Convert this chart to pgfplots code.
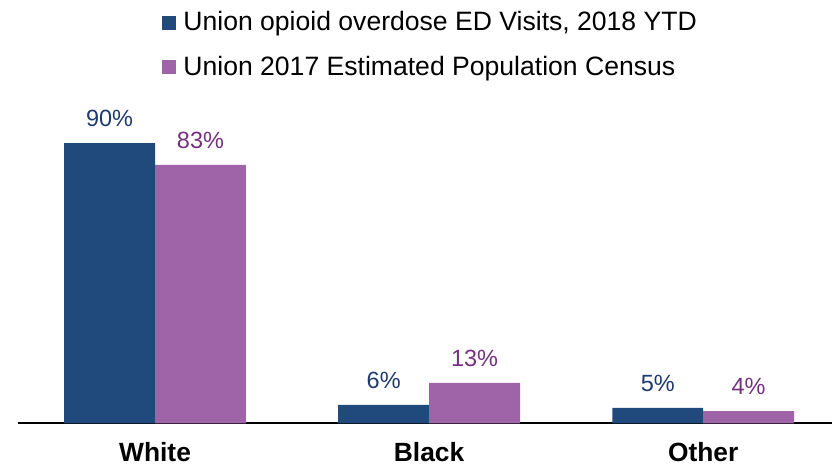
\documentclass[border=0pt]{standalone}
\usepackage{pgfplots}
\pgfplotsset{compat=1.18}
\usepackage{fontspec}
\setmainfont{Liberation Sans}

\definecolor{barblue}{HTML}{204A7C}
\definecolor{barpurple}{HTML}{9E64A7}
\definecolor{lblblue}{HTML}{1F3A6E}
\definecolor{lblpurple}{HTML}{74317F}

\begin{document}
\begin{tikzpicture}
  \begin{axis}[
    name=ax,
    scale only axis,
    width=407.5pt, height=171.6pt,
    xmin=-0.5, xmax=2.47,
    ymin=0, ymax=110,
    axis x line*=bottom,
    axis y line=none,
    axis line style={-, line width=1pt, black},
    xtick={0,1,2},
    xticklabels={White,Black,Other},
    major tick length=0pt,
    xticklabel style={anchor=north, inner sep=0pt, yshift=-9.5pt,
      font=\fontsize{13.2}{15}\selectfont\bfseries},
    /pgf/number format/assume math mode=true,
    ybar,
    bar width=45.5pt,
    nodes near coords={\pgfmathprintnumber{\pgfplotspointmeta}\%},
    every node near coord/.append style={anchor=south, inner sep=0pt,
      yshift=8pt, font=\fontsize{11.75}{14}\selectfont},
    legend style={at={(0.177,1.215)}, anchor=north west, draw=none,
      fill=none, font=\fontsize{13.3}{15}\selectfont,
      row sep=7.2pt, inner sep=0pt,
      nodes={inner xsep=3.5pt}},
    legend cell align=left,
    legend image code/.code={\fill[#1] (0pt,-3.5pt) rectangle (7pt,3.5pt);},
  ]
    \addplot[fill=barblue, draw=none, bar shift=-22.75pt,
      every node near coord/.append style={text=lblblue}]
      coordinates {(0,90) (1,6) (2,5)};
    \addplot[fill=barpurple, draw=none, bar shift=22.75pt,
      every node near coord/.append style={text=lblpurple}]
      coordinates {(0,83) (1,13) (2,4)};
    \legend{{Union opioid overdose ED Visits, 2018 YTD},
      {Union 2017 Estimated Population Census}}
  \end{axis}
  \path[use as bounding box] ([shift={(-9pt,-21pt)}]ax.south west)
    rectangle ([shift={(407.5pt,212pt)}]ax.south west);
\end{tikzpicture}
\end{document}
